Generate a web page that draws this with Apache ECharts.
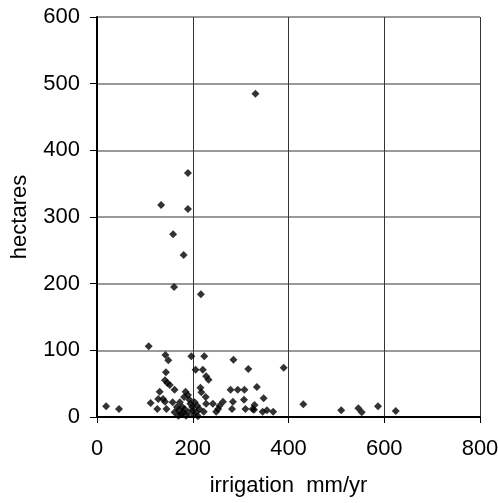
<!DOCTYPE html>
<html>
<head>
<meta charset="utf-8">
<title>irrigation vs hectares</title>
<script src="https://cdn.jsdelivr.net/npm/echarts@6/dist/echarts.min.js"></script>
<style>
  html, body { margin: 0; padding: 0; background: #fff; }
  #main { width: 498px; height: 503px; }
</style>
</head>
<body>
<div id="main"></div>
<script>
// irrigation (mm/yr)
var irrigation = [19, 46, 108, 143, 149, 197, 224, 285, 316, 144, 206, 221, 228, 233, 142, 147, 152, 162,
  131, 185, 190, 182, 216, 218, 227, 279, 294, 308, 334, 128, 138, 112, 142, 126, 145, 158, 173, 167,
  162, 171, 178, 180, 176, 191, 199, 204, 200, 209, 207, 211, 214, 223, 228, 242, 249, 256, 263, 253,
  284, 282, 307, 310, 325, 390, 348, 329, 328, 346, 355, 368, 431, 510, 546, 553, 587, 624,
  170, 186, 183, 195, 202, 193,
  190, 134, 190, 159, 181, 161, 217, 331];
// hectares
var hectares = [16, 12, 106, 93, 85, 91, 91, 86, 72, 67, 71, 71, 61, 56, 55, 51, 48, 41,
  38, 38, 33, 30, 44, 37, 30, 41, 41, 41, 45, 27, 27, 21, 23, 12, 12, 22, 22, 15,
  7, 10, 15, 7, 4, 7, 15, 22, 10, 17, 7, 1, 12, 8, 20, 20, 8, 17, 23, 12,
  23, 12, 26, 12, 12, 74, 28, 18, 11, 8, 10, 8, 19, 10, 13, 7, 16, 9,
  2, 2, 12, 20, 3, 26,
  366, 318, 312, 274, 243, 195, 184, 485];

var points = [];
for (var i = 0; i < irrigation.length; i++) {
  points.push([irrigation[i], hectares[i]]);
}

var myChart = echarts.init(document.getElementById('main'));
var font = 'Liberation Sans, Arial, sans-serif';
var option = {
  animation: false,
  grid: { left: 97, right: 18, top: 17, bottom: 86, outerBoundsMode: 'none', containLabel: false },
  xAxis: {
    type: 'value', min: 0, max: 800, interval: 200,
    name: 'irrigation  mm/yr', nameLocation: 'middle', nameGap: 58,
    nameTextStyle: { fontFamily: font, fontSize: 22, color: '#000' },
    axisLine: { show: true, onZero: false, lineStyle: { color: '#000', width: 2 } },
    axisTick: { show: true, length: 6, lineStyle: { color: '#000' } },
    axisLabel: { fontFamily: font, fontSize: 22, color: '#000', margin: 21 },
    splitLine: { show: true, lineStyle: { color: '#333', width: 1 } }
  },
  yAxis: {
    type: 'value', min: 0, max: 600, interval: 100,
    name: 'hectares', nameLocation: 'middle', nameGap: 66,
    nameTextStyle: { fontFamily: font, fontSize: 22, color: '#000' },
    axisLine: { show: true, onZero: false, lineStyle: { color: '#000', width: 2 } },
    axisTick: { show: true, length: 7, lineStyle: { color: '#000' } },
    axisLabel: { fontFamily: font, fontSize: 22, color: '#000', margin: 17 },
    splitLine: { show: true, lineStyle: { color: '#777', width: 1.5 } }
  },
  series: [{
    type: 'scatter',
    symbol: 'diamond',
    symbolSize: 8,
    itemStyle: { color: '#000' },
    data: points
  }]
};
myChart.setOption(option);
</script>
</body>
</html>
